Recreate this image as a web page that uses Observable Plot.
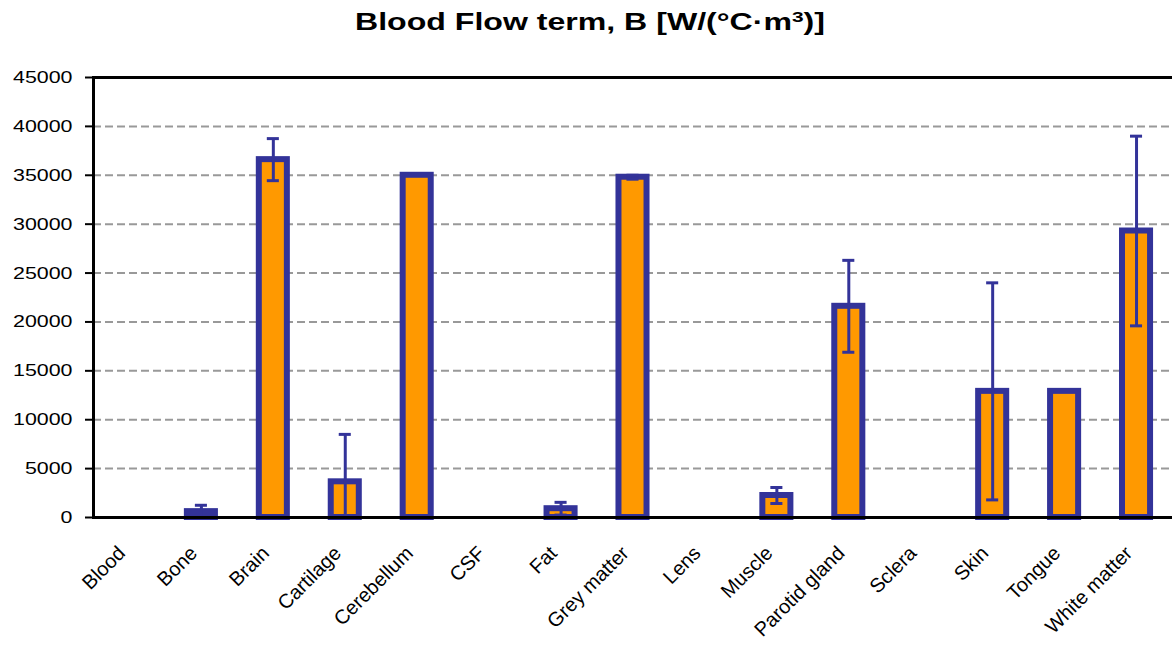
<!DOCTYPE html>
<html>
<head>
<meta charset="utf-8">
<script src="https://cdn.jsdelivr.net/npm/d3@7"></script>
<script src="https://cdn.jsdelivr.net/npm/@observablehq/plot@0.6"></script>
<style>
  html, body { margin: 0; padding: 0; background: white; overflow: hidden; }
  #chart svg { display: block; }
</style>
</head>
<body>
<div id="chart"></div>
<script>
const titleMain = "Blood Flow term, B [W/(°C·m";
const titleSup = "3";
const titleEnd = ")]";
const categories = ["Blood","Bone","Brain","Cartilage","Cerebellum","CSF","Fat","Grey matter","Lens","Muscle","Parotid gland","Sclera","Skin","Tongue","White matter"];
const means  = [0, 600, 36600, 3650, 35000, 0, 900, 34800, 0, 2250, 21600, 0, 12900, 12900, 29300];
const errors = [0, 650, 2150, 4850, 0, 0, 650, 200, 0, 820, 4700, 0, 11100, 0, 9700];
const yTicks = [0, 5000, 10000, 15000, 20000, 25000, 30000, 35000, 40000, 45000];
const gridTicks = [5000, 10000, 15000, 20000, 25000, 30000, 35000, 40000];

const rows = categories.map((c, i) => ({cat: c, v: means[i], e: errors[i]}));
const barRows = rows.filter(d => d.v > 0);
const errRows = rows.filter(d => d.e > 0).map(d => ({cat: d.cat, lo: Math.max(0, d.v - d.e), hi: d.v + d.e}));
const capRows = [];
rows.filter(d => d.e > 0).forEach(d => {
  capRows.push({cat: d.cat, y: d.v + d.e});
  if (d.v - d.e > 0) capRows.push({cat: d.cat, y: d.v - d.e});
});

const blue = "#333399", orange = "#FF9900";

const svg = Plot.plot({
  width: 1172,
  height: 649,
  marginTop: 77,
  marginBottom: 132,
  marginLeft: 93,
  marginRight: 0,
  style: {fontFamily: "'Liberation Sans', Arial, sans-serif", background: "white", color: "black"},
  x: {domain: categories, paddingInner: 0.61, paddingOuter: 0.305, round: false, axis: null},
  y: {domain: [0, 45000], axis: null},
  marks: [
    Plot.ruleY(gridTicks, {stroke: "#999999", strokeWidth: 2, strokeDasharray: "8,4"}),
    Plot.barY(barRows, {x: "cat", y: "v", fill: orange, stroke: blue, strokeWidth: 6}),
    Plot.ruleX(errRows, {x: "cat", y1: "lo", y2: "hi", stroke: blue, strokeWidth: 3}),
    Plot.tickY(capRows, {x: "cat", y: "y", stroke: blue, strokeWidth: 3, insetLeft: 8, insetRight: 8}),
    Plot.frame({stroke: "black", strokeWidth: 3, insetRight: -4}),
    Plot.axisY({ticks: yTicks, tickSize: 8, tickPadding: 13, tickFormat: d3.format("d"), fontSize: 17, strokeWidth: 2, ariaLabel: "yaxis"}),
    Plot.text(categories, {x: d => d, y: () => 0, text: d => d, rotate: -45, textAnchor: "end", lineAnchor: "bottom", dx: -3, dy: 37, fontSize: 20, fill: "black", ariaLabel: "category labels"})
  ]
});

document.getElementById("chart").append(svg);

// title
const t = d3.select(svg).append("text")
  .attr("x", 590).attr("y", 30)
  .attr("text-anchor", "middle")
  .attr("font-weight", "bold")
  .attr("font-size", 23)
  .attr("font-family", "'Liberation Sans', Arial, sans-serif")
  .attr("fill", "black");
t.append("tspan").text(titleMain);
t.append("tspan").attr("dy", -8).attr("font-size", 15).text(titleSup);
t.append("tspan").attr("dy", 8).text(titleEnd);
t.attr("textLength", 470).attr("lengthAdjust", "spacingAndGlyphs");

// widen y tick labels like the reference
svg.querySelectorAll('g[aria-label="yaxis tick label"] text, g[aria-label="y-axis tick label"] text').forEach(el => {
  const n = el.textContent.length;
  el.setAttribute("textLength", n * 11.9);
  el.setAttribute("lengthAdjust", "spacingAndGlyphs");
});
</script>
</body>
</html>
